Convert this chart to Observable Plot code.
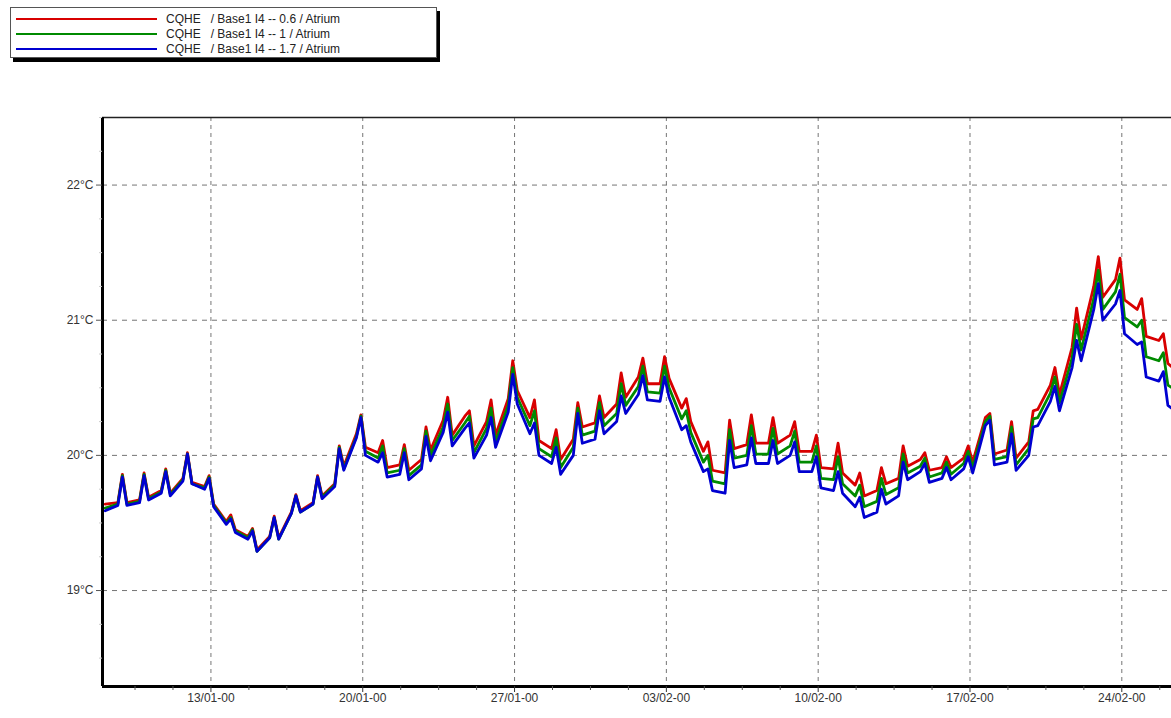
<!DOCTYPE html>
<html>
<head>
<meta charset="utf-8">
<script src="https://cdn.jsdelivr.net/npm/d3@7"></script>
<script src="https://cdn.jsdelivr.net/npm/@observablehq/plot@0.6"></script>
<style>
  html, body { margin: 0; padding: 0; background: #fff; }
  body { width: 1171px; height: 718px; overflow: hidden; position: relative; font-family: "Liberation Sans", Arial, sans-serif; }
  #legend { position: absolute; left: 10px; top: 7px; width: 425px; height: 49px; border: 1px solid #555; background: #fff; box-shadow: 3px 4px 0 #000; }
  .row { position: absolute; left: 0; height: 15px; display: flex; align-items: center; }
  .sw { width: 141px; height: 2px; margin-left: 5px; margin-right: 9px; }
  .lbl { font-size: 12px; color: #222; white-space: pre; }
  #spacer { height: 100px; }
</style>
</head>
<body>
<div id="legend"></div>
<div id="spacer"></div>
<div id="chart"></div>
<script>
// ---- data ----
const seriesNames = ["CQHE   / Base1 I4 -- 0.6 / Atrium", "CQHE   / Base1 I4 -- 1 / Atrium", "CQHE   / Base1 I4 -- 1.7 / Atrium"];
const seriesColors = ["#d80000", "#008a00", "#0000d0"];
const startDate = "2000-01-08";
const endDate = "2000-02-26T07:00";
// each day: [value at 03h, value at 17h, value at 22h (daily peak)]
const sampleHours = [3, 17, 22];
const red06 = [
  [19.64,19.65,19.86],[19.65,19.67,19.87],[19.69,19.74,19.90],[19.72,19.83,20.02],[19.80,19.77,19.85],
  [19.64,19.51,19.56],[19.45,19.40,19.46],[19.30,19.40,19.55],[19.39,19.58,19.71],[19.59,19.65,19.85],
  [19.70,19.79,20.07],[19.92,20.16,20.30],[20.06,20.02,20.11],[19.91,19.93,20.08],[19.89,19.97,20.21],
  [20.04,20.26,20.43],[20.15,20.29,20.33],[20.07,20.25,20.41],[20.15,20.42,20.70],[20.48,20.28,20.41],
  [20.11,20.05,20.19],[19.97,20.12,20.39],[20.21,20.24,20.44],[20.28,20.38,20.61],[20.43,20.58,20.72],
  [20.53,20.53,20.73],[20.57,20.35,20.42],[20.25,20.03,20.10],[19.89,19.87,20.26],[20.05,20.08,20.30],
  [20.09,20.09,20.28],[20.09,20.15,20.25],[20.03,20.03,20.15],[19.91,19.90,20.09],[19.87,19.78,19.87],
  [19.70,19.74,19.91],[19.79,19.83,20.07],[19.92,19.97,20.02],[19.89,19.91,19.99],[19.91,19.98,20.07],
  [19.95,20.28,20.31],[20.01,20.04,20.25],[19.98,20.10,20.33],[20.34,20.52,20.65],[20.45,20.80,21.09],
  [20.86,21.25,21.47],[21.17,21.30,21.46],[21.15,21.08,21.16],[20.88,20.85,20.90],[20.68,20.60,20.60]
];
const green1 = [
  [19.61,19.64,19.85],[19.64,19.66,19.86],[19.68,19.73,19.89],[19.71,19.82,20.01],[19.79,19.76,19.84],
  [19.63,19.50,19.54],[19.44,19.39,19.45],[19.29,19.39,19.54],[19.38,19.57,19.70],[19.58,19.64,19.84],
  [19.69,19.78,20.06],[19.90,20.14,20.29],[20.03,19.98,20.07],[19.87,19.89,20.05],[19.85,19.93,20.18],
  [20.00,20.21,20.38],[20.11,20.24,20.29],[20.02,20.20,20.35],[20.10,20.37,20.65],[20.43,20.22,20.33],
  [20.05,19.99,20.13],[19.91,20.06,20.35],[20.15,20.18,20.39],[20.22,20.31,20.53],[20.37,20.51,20.66],
  [20.47,20.46,20.66],[20.50,20.27,20.33],[20.17,19.95,20.00],[19.81,19.79,20.19],[19.98,20.00,20.22],
  [20.01,20.01,20.20],[20.01,20.07,20.18],[19.95,19.95,20.07],[19.83,19.82,19.99],[19.79,19.70,19.78],
  [19.62,19.66,19.83],[19.71,19.76,20.01],[19.87,19.92,19.98],[19.84,19.87,19.95],[19.86,19.94,20.03],
  [19.91,20.25,20.29],[19.97,19.99,20.21],[19.93,20.05,20.27],[20.28,20.46,20.58],[20.39,20.72,20.97],
  [20.78,21.16,21.37],[21.08,21.21,21.34],[21.02,20.95,21.00],[20.73,20.70,20.76],[20.52,20.46,20.46]
];
const blue17 = [
  [19.59,19.63,19.84],[19.63,19.65,19.85],[19.67,19.72,19.88],[19.70,19.81,20.01],[19.79,19.75,19.83],
  [19.62,19.49,19.53],[19.43,19.38,19.44],[19.29,19.39,19.54],[19.38,19.57,19.70],[19.58,19.64,19.84],
  [19.68,19.77,20.05],[19.89,20.13,20.28],[20.00,19.95,20.02],[19.84,19.86,20.02],[19.82,19.90,20.14],
  [19.96,20.17,20.32],[20.07,20.20,20.24],[19.98,20.15,20.28],[20.06,20.32,20.60],[20.38,20.16,20.24],
  [20.00,19.94,20.06],[19.86,20.00,20.31],[20.09,20.12,20.33],[20.16,20.25,20.44],[20.31,20.45,20.59],
  [20.41,20.40,20.58],[20.43,20.19,20.22],[20.10,19.88,19.90],[19.74,19.72,20.11],[19.91,19.93,20.13],
  [19.94,19.94,20.11],[19.94,20.00,20.10],[19.88,19.88,19.99],[19.76,19.74,19.88],[19.72,19.62,19.69],
  [19.54,19.58,19.75],[19.64,19.70,19.95],[19.82,19.88,19.94],[19.80,19.83,19.91],[19.82,19.90,19.99],
  [19.87,20.22,20.26],[19.93,19.95,20.16],[19.89,20.00,20.21],[20.22,20.40,20.51],[20.33,20.65,20.85],
  [20.70,21.08,21.27],[21.00,21.12,21.22],[20.90,20.82,20.84],[20.58,20.55,20.62],[20.37,20.30,20.30]
];
const weekTicks = ["2000-01-13","2000-01-20","2000-01-27","2000-02-03","2000-02-10","2000-02-17","2000-02-24"];
const minorTicks = ["2000-01-09T12:00","2000-01-11T06:00","2000-01-14T18:00","2000-01-16T12:00","2000-01-18T06:00",
  "2000-01-21T18:00","2000-01-23T12:00","2000-01-25T06:00","2000-01-28T18:00","2000-01-30T12:00","2000-02-01T06:00",
  "2000-02-04T18:00","2000-02-06T12:00","2000-02-08T06:00","2000-02-11T18:00","2000-02-13T12:00","2000-02-15T06:00",
  "2000-02-18T18:00","2000-02-20T12:00","2000-02-22T06:00","2000-02-25T18:00"];
const tempTicks = [19, 20, 21, 22];
const tempMinor = [18.5, 18.75, 19.25, 19.5, 19.75, 20.25, 20.5, 20.75, 21.25, 21.5, 21.75, 22.25, 22.5];
const tempDomain = [18.29, 22.5];

// ---- build table ----
const parse = s => new Date(s + (s.length === 10 ? "T00:00Z" : "Z"));
const t0 = parse(startDate).getTime();
function rows(vals, name) {
  const out = [];
  vals.forEach((day, d) => day.forEach((v, k) => out.push({series: name, date: new Date(t0 + d * 864e5 + sampleHours[k] * 36e5), temp: v})));
  return out;
}
const allSeries = [red06, green1, blue17].map((v, i) => rows(v, seriesNames[i]));
const xDomain = [parse(startDate), parse(endDate)];
const wk = weekTicks.map(parse), mn = minorTicks.map(parse);

const chart = Plot.plot({
  width: 1171, height: 618,
  marginTop: 17, marginBottom: 32, marginLeft: 102, marginRight: 0,
  style: {fontFamily: "'Liberation Sans', Arial, sans-serif", fontSize: "12px", color: "#333", background: "#fff"},
  x: {type: "utc", domain: xDomain, label: null},
  y: {domain: tempDomain, label: null},
  marks: [
    Plot.gridX(wk, {stroke: "#666", strokeOpacity: 0.9, strokeWidth: 1, strokeDasharray: "4,4"}),
    Plot.gridY(tempTicks, {stroke: "#666", strokeOpacity: 0.9, strokeWidth: 1, strokeDasharray: "5,5"}),
    ...allSeries.map((r, i) => Plot.line(r, {x: "date", y: "temp", stroke: seriesColors[i], strokeWidth: 2.8, clip: true})),
    Plot.ruleY([tempDomain[1]], {stroke: "#222", strokeWidth: 1.5}),
    Plot.ruleY([tempDomain[0]], {stroke: "#000", strokeWidth: 3}),
    Plot.ruleX([xDomain[0]], {stroke: "#000", strokeWidth: 3}),
    Plot.axisY(tempMinor, {tickSize: 3, tickFormat: () => "", stroke: "#ccc", label: null}),
    Plot.axisY(tempTicks, {tickSize: 6, tickPadding: 3, tickFormat: d => d + "°C", label: null, stroke: "#555"}),
    Plot.axisX(mn, {tickSize: 4, tickFormat: () => "", stroke: "#555", label: null}),
    Plot.axisX(wk, {tickSize: 6, tickPadding: 1, tickFormat: d3.utcFormat("%d/%m-%y"), label: null, stroke: "#333"})
  ]
});
document.getElementById("chart").appendChild(chart);

// ---- legend ----
const leg = document.getElementById("legend");
seriesNames.forEach((name, i) => {
  const row = document.createElement("div");
  row.className = "row";
  row.style.top = (3 + i * 15) + "px";
  row.innerHTML = `<div class="sw" style="background:${seriesColors[i]}"></div><span class="lbl"></span>`;
  row.querySelector(".lbl").textContent = name;
  leg.appendChild(row);
});
</script>
</body>
</html>
